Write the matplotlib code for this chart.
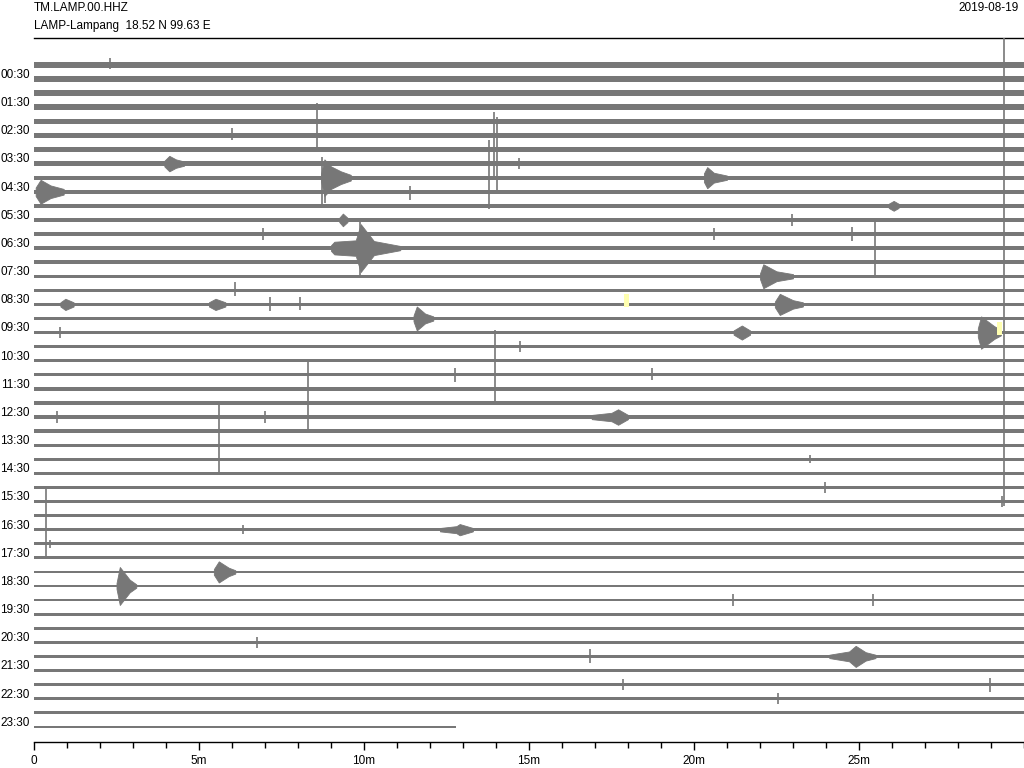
import numpy as np
import matplotlib.pyplot as plt

# --- chart data ---
station = "TM.LAMP.00.HHZ"
location = "LAMP-Lampang  18.52 N 99.63 E"
day = "2019-08-19"
n_rows = 48                      # one row per 30 minutes
last_row_end = 12.8              # minutes recorded in the last row
hour_labels = ["%02d:30" % h for h in range(24)]

# background noise half-width for each row (row units)
noise = [0.2] * 5 + [0.15] * 6 + [0.12] * 20 + [0.10] * 16 + [0.08]

# earthquakes: row, envelope minutes, envelope half-amplitudes (row units)
event_rows = [7, 8, 9, 8, 13, 15, 17, 18, 19, 19, 25, 33, 37, 36, 42, 17, 17, 10, 11]
event_minutes = [
    [3.95, 4.1, 4.3, 4.55],
    [8.7, 8.8, 9.0, 9.3, 9.6],
    [0.05, 0.2, 0.5, 0.9],
    [20.3, 20.4, 20.6, 21.0],
    [9.0, 9.1, 9.75, 9.9, 10.3, 11.1],
    [22.0, 22.1, 22.5, 23.0],
    [22.45, 22.6, 23.0, 23.3],
    [11.5, 11.6, 11.85, 12.1],
    [28.6, 28.7, 29.1, 29.3],
    [21.2, 21.45, 21.7],
    [16.9, 17.5, 17.7, 18.0],
    [12.3, 12.8, 12.9, 13.3],
    [2.5, 2.6, 2.9, 3.1],
    [5.45, 5.6, 5.9, 6.1],
    [24.1, 24.7, 24.9, 25.2, 25.5],
    [0.8, 0.95, 1.2],
    [5.3, 5.5, 5.8],
    [25.9, 26.05, 26.2],
    [9.25, 9.36, 9.5],
]
event_amps = [
    [0.2, 0.55, 0.3, 0.15],
    [0.3, 1.3, 0.8, 0.45, 0.2],
    [0.3, 0.85, 0.45, 0.2],
    [0.3, 0.75, 0.35, 0.15],
    [0.2, 0.45, 0.55, 1.7, 0.5, 0.15],
    [0.2, 0.85, 0.35, 0.15],
    [0.2, 0.75, 0.3, 0.15],
    [0.2, 0.85, 0.35, 0.15],
    [0.3, 1.15, 0.45, 0.2],
    [0.15, 0.5, 0.15],
    [0.15, 0.3, 0.55, 0.15],
    [0.12, 0.25, 0.4, 0.12],
    [0.2, 1.35, 0.45, 0.12],
    [0.2, 0.75, 0.3, 0.12],
    [0.12, 0.35, 0.75, 0.3, 0.12],
    [0.15, 0.4, 0.15],
    [0.15, 0.4, 0.15],
    [0.15, 0.35, 0.15],
    [0.15, 0.45, 0.15],
]

# single spikes: row, minute, extent up, extent down (row units)
spike_rows = [0, 3, 6, 4, 4, 7, 8, 8, 13, 13, 19, 21, 24, 30, 31,
              0, 9, 12, 12, 12, 11, 16, 17, 17, 19, 20, 22, 22, 25, 25,
              30, 33, 34, 38, 38, 41, 42, 44, 44, 45, 5, 28]
spike_minutes = [29.39, 8.58, 13.79, 13.94, 14.03, 14.7, 8.73, 8.82, 9.88, 25.48,
                 13.97, 8.3, 5.61, 0.36, 29.33,
                 2.3, 11.4, 6.94, 24.8, 20.6, 22.97, 6.1, 7.15, 8.06, 0.79,
                 14.73, 12.76, 18.73, 7.0, 0.7, 23.97, 6.33, 0.48, 21.18, 25.42,
                 6.76, 16.85, 17.85, 28.97, 22.55, 6.0, 23.5]
spike_up = [3.0, 0.3, 0.65, 0.65, 0.3, 0.4, 1.5, 1.0, 2.0, 2.0,
            0.2, 0.1, 0.05, 0.05, 0.4,
            0.5, 0.4, 0.4, 0.5, 0.4, 0.4, 0.6, 0.5, 0.5, 0.4,
            0.4, 0.5, 0.5, 0.4, 0.4, 0.4, 0.3, 0.3, 0.4, 0.4,
            0.4, 0.5, 0.4, 0.5, 0.4, 0.5, 0.3]
spike_down = [31.3, 3.0, 4.2, 4.0, 4.9, 0.4, 2.0, 1.8, 1.9, 2.1,
              5.1, 5.1, 5.1, 5.0, 0.4,
              0.3, 0.6, 0.4, 0.5, 0.4, 0.4, 0.4, 0.5, 0.4, 0.4,
              0.4, 0.5, 0.4, 0.4, 0.4, 0.4, 0.3, 0.3, 0.4, 0.4,
              0.4, 0.5, 0.4, 0.5, 0.4, 0.3, 0.3]

# yellow picks
pick_rows = [17, 19]
pick_minutes = [17.95, 29.27]
pick_width = 0.15

trace_color = "#777777"
font = "Liberation Sans"

fig = plt.figure(figsize=(10.24, 7.68), dpi=100)
ax = fig.add_axes([34 / 1024, 26 / 768, 990 / 1024, 704 / 768])

# noise bands
for r in range(n_rows):
    end = last_row_end if r == n_rows - 1 else 30.0
    ax.fill_between([0, end], [r - noise[r]] * 2, [r + noise[r]] * 2,
                    color=trace_color, linewidth=0, zorder=2)

# event envelopes
for r, xs, amps in zip(event_rows, event_minutes, event_amps):
    xs = np.array(xs)
    amps = np.array(amps)
    ax.fill_between(xs, r - amps, r + amps, color=trace_color, linewidth=0.6,
                    edgecolor=trace_color, zorder=3)

# spikes
for r, m, up, down in zip(spike_rows, spike_minutes, spike_up, spike_down):
    ax.vlines(m, r - up, r + down, color=trace_color, linewidth=1.2, zorder=3)

# picks
for r, m in zip(pick_rows, pick_minutes):
    ax.fill_between([m - pick_width / 2, m + pick_width / 2], r - 0.75, r + 0.2,
                    color="#ffffb0", linewidth=0, zorder=4)

ax.set_xlim(0, 30)
ax.set_ylim(n_rows + 0.08, -1.92)

ax.spines["left"].set_visible(False)
ax.spines["right"].set_visible(False)
ax.spines["top"].set_linewidth(1)
ax.spines["bottom"].set_linewidth(1)

ax.set_xticks(np.arange(0, 30, 5))
ax.set_xticklabels(["0"] + ["%dm" % m for m in range(5, 30, 5)])
ax.set_xticks(np.arange(0, 31, 1), minor=True)
ax.tick_params(axis="x", which="major", length=6, width=1, pad=3.5,
               labelsize=8.5, direction="out")
ax.tick_params(axis="x", which="minor", length=4, width=1, direction="out")
for t in ax.get_xticklabels():
    t.set_fontfamily(font)

ax.set_yticks(np.arange(1, n_rows, 2) - 0.4)
ax.set_yticklabels(hour_labels)
ax.tick_params(axis="y", length=0, pad=3, labelsize=8.5)
for t in ax.get_yticklabels():
    t.set_fontfamily(font)

fig.text(34 / 1024, 1 - 8 / 768, station, ha="left", va="center",
         fontsize=8.5, family=font)
fig.text(34 / 1024, 1 - 26 / 768, location, ha="left", va="center",
         fontsize=8.5, family=font)
fig.text(1019 / 1024, 1 - 8 / 768, day, ha="right", va="center",
         fontsize=8.5, family=font)

fig.savefig("out.png", dpi=100)
